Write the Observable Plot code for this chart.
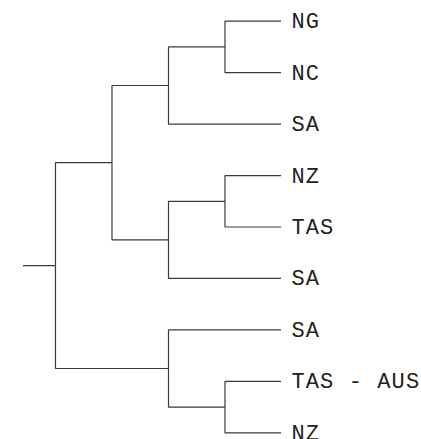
<!DOCTYPE html>
<html>
<head>
<meta charset="utf-8">
<script src="https://cdn.jsdelivr.net/npm/d3@7"></script>
<script src="https://cdn.jsdelivr.net/npm/@observablehq/plot@0.6"></script>
<style>
  html, body { margin: 0; padding: 0; background: #fff; }
  #chart svg { display: block; overflow: hidden; }
  #chart svg text { letter-spacing: 1.1px; }
</style>
</head>
<body>
<div id="chart"></div>
<script>
// Tree structure: each entry is the path from the stem to a leaf (leaf label last).
const leafPaths = [
  ["stem", "root", "a", "a1", "a11", "NG"],
  ["stem", "root", "a", "a1", "a11", "NC"],
  ["stem", "root", "a", "a1", "SA"],
  ["stem", "root", "a", "a2", "a21", "NZ"],
  ["stem", "root", "a", "a2", "a21", "TAS"],
  ["stem", "root", "a", "a2", "SA"],
  ["stem", "root", "b", "SA"],
  ["stem", "root", "b", "b1", "TAS - AUS"],
  ["stem", "root", "b", "b1", "NZ"]
];

// Build a nested hierarchy from the paths (keeps input order).
const treeData = {name: leafPaths[0][0], children: []};
for (const path of leafPaths) {
  let node = treeData;
  for (let i = 1; i < path.length; i++) {
    const isLeaf = i === path.length - 1;
    let child = isLeaf ? null : node.children.find(c => c.name === path[i] && c.children);
    if (!child) {
      child = isLeaf ? {name: path[i]} : {name: path[i], children: []};
      node.children.push(child);
    }
    node = child;
  }
}

const root = d3.hierarchy(treeData);
d3.cluster().nodeSize([1, 1]).separation(() => 1)(root);

const links = root.links().map(({source, target}) => ({
  x1: source.y, y1: source.x, x2: target.y, y2: target.x
}));
const leaves = root.leaves().map(d => ({x: d.y, y: d.x, name: d.data.name}));

const chart = Plot.plot({
  width: 421,
  height: 439,
  marginLeft: 23,
  marginRight: 140,
  marginTop: 0,
  marginBottom: 0,
  axis: null,
  x: {domain: [0.434, 5]},
  y: {reverse: true, insetTop: 20.7, insetBottom: 6.7},
  marks: [
    Plot.link(links, {
      x1: "x1", y1: "y1", x2: "x2", y2: "y2",
      curve: "step-before",
      stroke: "#3a3a3a",
      strokeWidth: 1.2,
      clip: true
    }),
    Plot.text(leaves, {
      x: "x", y: "y", text: "name",
      textAnchor: "start",
      dx: 10,
      fontFamily: "Liberation Mono",
      fontSize: 22,
      fill: "#222"
    })
  ]
});
document.getElementById("chart").append(chart);
</script>
</body>
</html>
